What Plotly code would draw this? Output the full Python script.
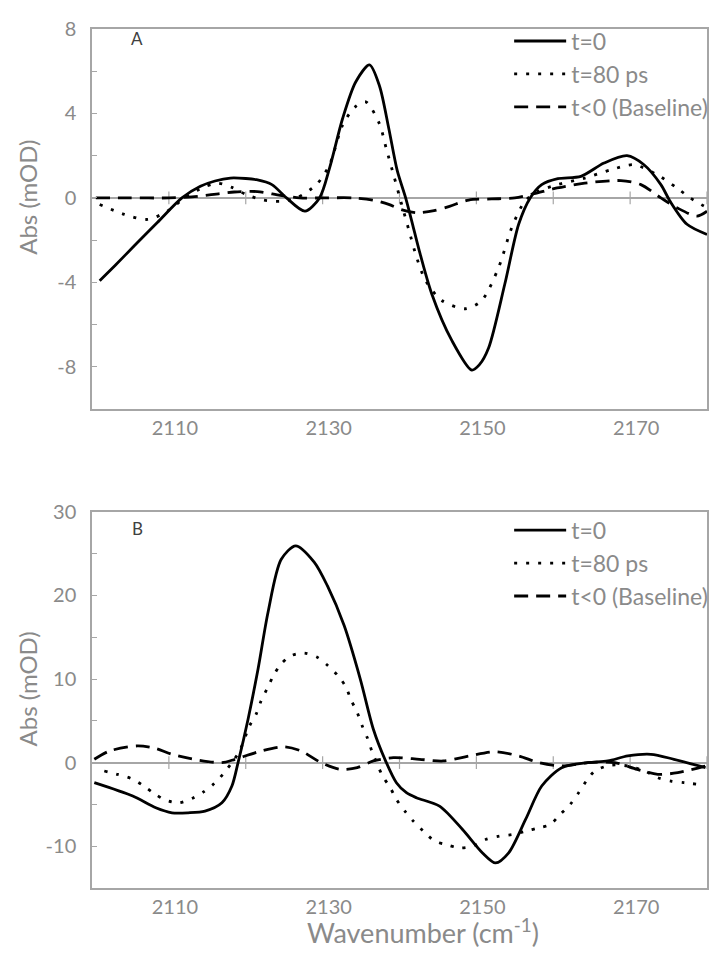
import plotly.graph_objects as go

# ---------------- data ----------------
# Panel A
a_t0_x = [2101.0, 2103.0, 2105.5, 2108.5, 2111.7, 2114.1, 2116.0, 2118.0, 2120.0, 2121.4,
          2123.4, 2125.3, 2127.7, 2129.6, 2130.9, 2132.6, 2134.3, 2136.1, 2137.4, 2138.6,
          2139.7, 2140.8, 2141.7, 2142.5, 2144.2, 2146.8, 2149.4, 2150.4, 2151.6, 2153.7,
          2155.5, 2157.0, 2158.5, 2160.6, 2163.6, 2166.6, 2169.6, 2171.8, 2174.0, 2175.2,
          2177.4, 2180.0]
a_t0_y = [-3.92, -3.2, -2.27, -1.17, 0.0, 0.55, 0.8, 0.94, 0.92, 0.86,
          0.63, 0.0, -0.63, 0.0, 1.41, 3.76, 5.49, 6.3, 5.3, 3.3,
          1.3, 0.0, -1.25, -2.4, -4.55, -6.75, -8.16, -7.9, -7.1, -4.08,
          -1.25, 0.0, 0.63, 0.91, 1.02, 1.65, 2.0, 1.57, 0.63, -0.16,
          -1.25, -1.73]

a_t80_x = [2101.0, 2104.2, 2107.2, 2109.8, 2112.4, 2114.5, 2116.3, 2118.2, 2120.1, 2122.3,
           2124.5, 2126.6, 2129.2, 2130.9, 2132.6, 2134.2, 2135.6, 2137.4, 2138.3, 2139.3,
           2140.2, 2141.2, 2142.3, 2143.4, 2145.5, 2148.6, 2150.7, 2152.9, 2154.6, 2156.3,
           2158.0, 2160.6, 2164.1, 2167.5, 2170.5, 2173.5, 2176.1, 2177.8, 2180.0]
a_t80_y = [-0.31, -0.78, -1.02, -0.63, 0.1, 0.5, 0.7, 0.5, 0.15, -0.1,
           -0.16, 0.0, 0.63, 1.57, 3.45, 4.3, 4.55, 3.5, 2.3, 1.0,
           -0.2, -1.5, -2.9, -3.92, -4.86, -5.25, -4.86, -3.29, -1.41, -0.16,
           0.31, 0.63, 0.94, 1.33, 1.57, 1.1, 0.47, 0.0, -0.47]

a_base_x = [2100.5, 2105, 2110, 2113, 2115.5, 2118.5, 2121.5, 2124.5, 2127, 2130,
            2134, 2136.5, 2138.6, 2140.2, 2142.2, 2144.5, 2146.5, 2149, 2152, 2155,
            2157.5, 2160.5, 2164.1, 2168.8, 2171.4, 2174.0, 2176.1, 2178.7, 2180.0]
a_base_y = [0, 0, 0, 0.05, 0.15, 0.28, 0.3, 0.12, 0.0, 0.0,
            0.0, -0.1, -0.31, -0.55, -0.7, -0.6, -0.4, -0.1, -0.05, 0.0,
            0.2, 0.47, 0.7, 0.82, 0.63, 0.0, -0.47, -0.86, -0.63]

# Panel B
b_t0_x = [2100.3, 2105.3, 2108.3, 2110.4, 2112.5, 2114.7, 2116.9, 2118.2, 2119.0, 2120.3,
          2121.6, 2122.9, 2124.6, 2126.5, 2128.9, 2130.6, 2132.8, 2134.9, 2136.6, 2138.1,
          2139.6, 2140.9, 2142.2, 2145.2, 2148.2, 2150.8, 2152.5, 2154.2, 2156.4, 2158.5,
          2161.1, 2164.5, 2167.1, 2169.7, 2172.7, 2175.7, 2179.8]
b_t0_y = [-2.4, -4.0, -5.4, -6.0, -6.0, -5.8, -4.8, -2.8, 0.0, 5.2,
          11.2, 18.0, 24.3, 25.95, 24.0, 21.2, 16.4, 10.0, 4.0, 0.4,
          -2.4, -3.6, -4.2, -5.2, -8.0, -10.8, -12.0, -10.8, -6.8, -2.8,
          -0.6, 0.0, 0.2, 0.8, 1.0, 0.4, -0.6]

b_t80_x = [2101.6, 2103.3, 2105.1, 2106.6, 2108.1, 2109.6, 2111.3, 2113.0, 2114.5, 2115.9,
           2117.1, 2118.2, 2119.2, 2120.5, 2121.4, 2122.0, 2122.8, 2123.6, 2124.5, 2125.9,
           2127.6, 2129.3, 2130.7, 2132.0, 2133.0, 2133.7, 2134.5, 2135.1, 2135.8, 2136.4,
           2137.8, 2138.8, 2139.6, 2140.7, 2141.8, 2143.1, 2144.6, 2146.1, 2147.8, 2149.5,
           2151.2, 2153.0, 2154.7, 2156.4, 2158.1, 2159.6, 2160.9, 2162.2, 2163.3, 2164.3,
           2165.4, 2167.5, 2169.7, 2171.9, 2173.6, 2175.3, 2177.0, 2178.9]
b_t80_y = [-1.0, -1.4, -1.9, -2.7, -3.7, -4.5, -4.8, -4.3, -3.5, -2.5,
           -1.3, 0.0, 1.4, 4.4, 5.9, 7.4, 8.9, 10.4, 11.7, 12.8,
           13.1, 12.6, 11.6, 10.4, 9.1, 7.5, 6.0, 4.5, 3.0, 1.4,
           -1.6, -3.0, -4.4, -5.8, -7.0, -8.2, -9.4, -9.8, -10.2, -10.0,
           -9.2, -8.8, -8.6, -8.2, -7.8, -7.4, -6.2, -5.0, -3.6, -2.2,
           -1.0, -0.3, -0.4, -1.0, -1.8, -2.2, -2.4, -2.6]

b_base_x = [2100.3, 2102.3, 2105.9, 2108.3, 2110.4, 2113.9, 2116.9, 2118.6, 2122.0, 2125.0,
            2127.2, 2129.8, 2132.3, 2134.5, 2136.6, 2139.2, 2142.6, 2145.7, 2149.1, 2152.5,
            2155.5, 2158.1, 2161.1, 2164.5, 2168.0, 2170.9, 2173.6, 2176.2, 2179.8]
b_base_y = [0.4, 1.4, 2.0, 1.7, 1.0, 0.3, 0.0, 0.4, 1.4, 1.9,
            1.4, 0.0, -0.8, -0.6, 0.2, 0.6, 0.4, 0.2, 0.8, 1.3,
            0.8, 0.0, -0.4, 0.0, 0.0, -0.8, -1.4, -1.2, -0.4]

series_names = ["t=0", "t=80 ps", "t<0 (Baseline)"]
x_tick_vals = [2110, 2130, 2150, 2170]
zero_axis_ticks = [2110, 2120, 2130, 2140, 2150, 2160, 2170, 2180]
x_range = [2100, 2180]
a_y_range = [-10, 8]
a_y_tick_vals = [-8, -4, 0, 4, 8]
a_y_tick_text = ["-8", "-4", "0", "4", "8"]
b_y_range = [-15, 30]
b_y_tick_vals = [-10, 0, 10, 20, 30]
b_y_tick_text = ["-10", "0", "10", "20", "30"]

# ---------------- styling ----------------
GRAY_TXT = "#8a8a8a"
GRAY_LINE = "#a6a6a6"
FONT = "Lato"
styles = [
    dict(color="black", width=2.8, dash="solid"),
    dict(color="black", width=2.8, dash="3px,9px"),
    dict(color="black", width=2.8, dash="14px,8px"),
]

fig = go.Figure()

panels = [
    ("x", "y", "legend", [(a_t0_x, a_t0_y), (a_t80_x, a_t80_y), (a_base_x, a_base_y)]),
    ("x2", "y2", "legend2", [(b_t0_x, b_t0_y), (b_t80_x, b_t80_y), (b_base_x, b_base_y)]),
]

for xa, ya, leg, data in panels:
    fig.add_trace(go.Scatter(
        x=zero_axis_ticks, y=[0] * len(zero_axis_ticks), mode="markers",
        marker=dict(symbol="line-ns", size=9, line=dict(width=1.2, color=GRAY_LINE)),
        showlegend=False, hoverinfo="skip", xaxis=xa, yaxis=ya))
    for i in [2, 1, 0]:
        xs, ys = data[i]
        fig.add_trace(go.Scatter(
            x=xs, y=ys, mode="lines", name=series_names[i],
            line=dict(shape="spline", smoothing=0.8, **styles[i]),
            legend=leg, legendrank=i + 1,
            xaxis=xa, yaxis=ya))

axis_common = dict(showline=True, linecolor=GRAY_LINE, linewidth=1.5, mirror=True,
                   showgrid=False, automargin=False)
tickfont = dict(family=FONT, size=20, color=GRAY_TXT)
xaxis_common = dict(axis_common, range=x_range, tickvals=x_tick_vals, ticks="",
                    zeroline=False, ticklabelshift=6, tickfont=tickfont)
yaxis_common = dict(axis_common, ticks="inside", ticklen=5, tickcolor=GRAY_LINE,
                    ticklabelstandoff=10, zeroline=True, zerolinecolor=GRAY_LINE,
                    zerolinewidth=1.5, tickfont=tickfont)

legend_common = dict(xanchor="right", yanchor="top", bgcolor="rgba(0,0,0,0)",
                     font=dict(family=FONT, size=23, color=GRAY_TXT), itemwidth=52,
                     traceorder="normal")

# the page body adds an 8px margin, so the figure is shifted by 8px
fig.update_layout(
    width=717, height=949,
    margin=dict(l=84, r=13, t=12, b=69),
    paper_bgcolor="white", plot_bgcolor="white",
    font=dict(family=FONT, color=GRAY_TXT),
    xaxis=dict(xaxis_common, anchor="y", domain=[0, 1]),
    xaxis2=dict(xaxis_common, anchor="y2", domain=[0, 1]),
    yaxis=dict(yaxis_common, domain=[0.5576, 1], range=a_y_range,
               tickvals=a_y_tick_vals, ticktext=a_y_tick_text,
               minor=dict(dtick=2, tick0=0, ticks="inside", ticklen=5, tickcolor=GRAY_LINE)),
    yaxis2=dict(yaxis_common, domain=[0, 0.4378], range=b_y_range,
                tickvals=b_y_tick_vals, ticktext=b_y_tick_text,
                minor=dict(dtick=5, tick0=0, ticks="inside", ticklen=5, tickcolor=GRAY_LINE)),
    legend=dict(legend_common, x=1.01, y=1.011),
    legend2=dict(legend_common, x=1.01, y=0.4415),
    showlegend=True,
)

ann_font = dict(family=FONT, size=24, color=GRAY_TXT)
fig.add_annotation(text="Abs (mOD)", xref="paper", yref="paper", x=-0.105, y=0.804,
                   textangle=-90, showarrow=False, font=ann_font,
                   xanchor="center", yanchor="middle")
fig.add_annotation(text="Abs (mOD)", xref="paper", yref="paper", x=-0.105, y=0.2316,
                   textangle=-90, showarrow=False, font=ann_font,
                   xanchor="center", yanchor="middle")
fig.add_annotation(text="Wavenumber (cm<sup>-1</sup>)", xref="paper", yref="paper",
                   x=0.539, y=-0.0495, showarrow=False,
                   font=dict(family=FONT, size=27, color=GRAY_TXT),
                   xanchor="center", yanchor="middle")
fig.add_annotation(text="A", xref="paper", yref="paper", x=0.0726, y=0.989,
                   xanchor="center", yanchor="middle",
                   showarrow=False, font=dict(family=FONT, size=17, color="#404040"))
fig.add_annotation(text="B", xref="paper", yref="paper", x=0.074, y=0.419,
                   xanchor="center", yanchor="middle",
                   showarrow=False, font=dict(family=FONT, size=17, color="#404040"))

fig.write_html("out.html")
